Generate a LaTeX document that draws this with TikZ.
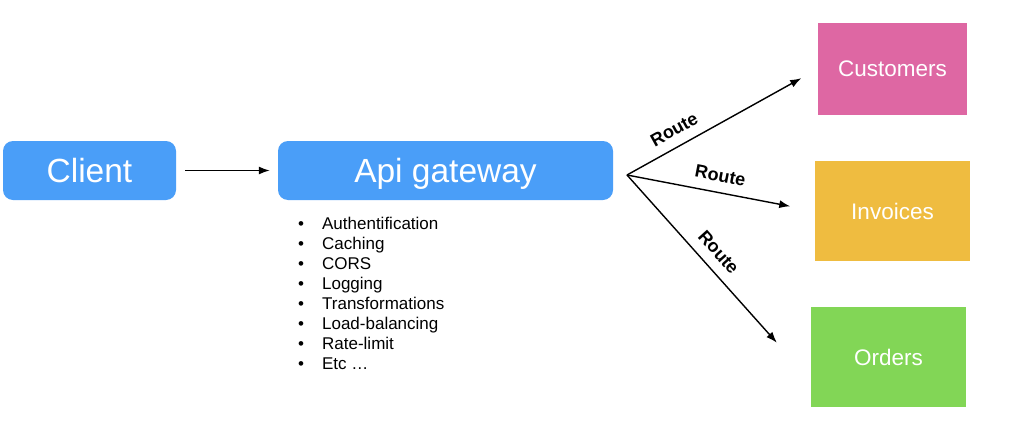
\documentclass[tikz,border=0pt]{standalone}
\usepackage{fontspec}
\setmainfont{Liberation Sans}
\usetikzlibrary{arrows.meta,positioning}
\definecolor{apiblue}{RGB}{74,158,248}
\definecolor{custpink}{RGB}{222,103,163}
\definecolor{invyellow}{RGB}{239,188,64}
\definecolor{ordgreen}{RGB}{130,214,86}

\begin{document}
\begin{tikzpicture}[
  x=1pt, y=-1pt,
  bluebox/.style={fill=apiblue, rounded corners=10pt, text=white, inner sep=0pt, minimum height=59pt, text depth=0pt, font=\fontsize{33.5}{38}\selectfont},
  svc/.style={inner sep=0pt, text=white, font=\fontsize{22.5}{26}\selectfont},
  arr/.style={-{Latex[length=11pt,width=8pt]}, line width=1.4pt},
  lbl/.style={font=\bfseries\fontsize{18}{21}\selectfont, sloped, above=10pt, inner sep=0pt}
]
\useasboundingbox[fill=white] (0,0) rectangle (1024,436);
\node[bluebox, minimum width=173pt] (client) at (89.5,170.5) {Client};
\node[bluebox, minimum width=335pt] (gateway) at (445.5,170.5) {Api gateway};
\node[anchor=north west, inner sep=0pt, font=\fontsize{17}{20}\selectfont] (features) at (298,215) {%
  \begin{tabular}{@{}l@{\hspace{18pt}}l@{}}
  \textbullet & Authentification\\
  \textbullet & Caching\\
  \textbullet & CORS\\
  \textbullet & Logging\\
  \textbullet & Transformations\\
  \textbullet & Load-balancing\\
  \textbullet & Rate-limit\\
  \textbullet & Etc \dots
  \end{tabular}};
\node[svc, fill=custpink, minimum width=149pt, minimum height=92pt] (customers) at (892.5,69) {Customers};
\node[svc, fill=invyellow, minimum width=155pt, minimum height=100pt] (invoices) at (892.5,211) {Invoices};
\node[svc, fill=ordgreen, minimum width=155pt, minimum height=100pt] (orders) at (888.5,357) {Orders};
\coordinate (hub) at (627,175);
\draw[arr, shorten <=9pt, shorten >=8pt] (client) -- (gateway);
\draw[arr, shorten >=19pt] (hub) -- node[lbl, pos=0.29] {Route} (customers.west);
\draw[arr, shorten >=25pt] (hub) -- node[lbl, pos=0.48] {Route} (invoices.west);
\draw[arr, shorten >=51pt] (hub) -- node[lbl, pos=0.43] {Route} (orders.197);
\end{tikzpicture}
\end{document}
